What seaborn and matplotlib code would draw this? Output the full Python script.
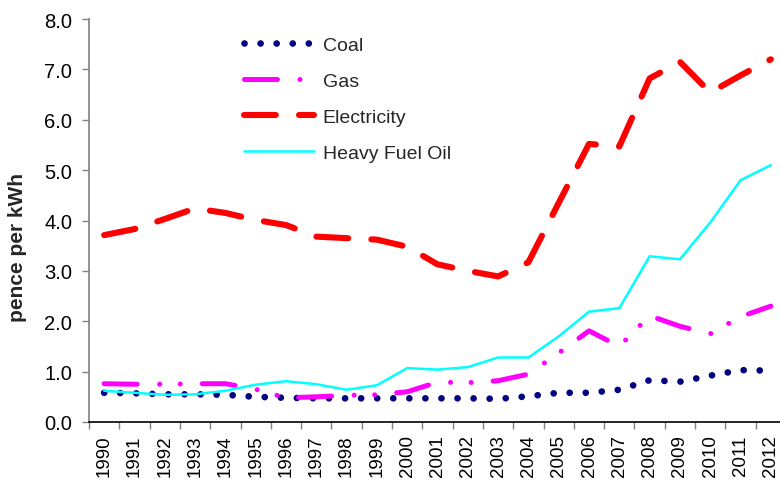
import numpy as np
import pandas as pd
import matplotlib
matplotlib.use("Agg")
import matplotlib.pyplot as plt
import seaborn as sns
from matplotlib.ticker import FixedLocator, FormatStrFormatter

# data (pence per kWh)
years = list(range(1990, 2013))
coal = [0.58, 0.57, 0.55, 0.55, 0.54, 0.50, 0.48, 0.47, 0.47, 0.47, 0.47, 0.47,
        0.47, 0.46, 0.51, 0.58, 0.58, 0.64, 0.83, 0.80, 0.92, 1.03, 1.02]
gas = [0.76, 0.75, 0.75, 0.76, 0.76, 0.65, 0.48, 0.50, 0.53, 0.54, 0.60, 0.79,
       0.78, 0.82, 0.95, 1.37, 1.81, 1.50, 2.11, 1.90, 1.75, 2.09, 2.30]
electricity = [3.71, 3.83, 4.03, 4.24, 4.15, 4.01, 3.91, 3.68, 3.65, 3.62, 3.48, 3.13,
               3.00, 2.89, 3.17, 4.35, 5.52, 5.47, 6.82, 7.15, 6.54, 6.88, 7.20]
hfo = [0.62, 0.58, 0.54, 0.55, 0.62, 0.74, 0.81, 0.75, 0.64, 0.73, 1.07, 1.04,
       1.09, 1.28, 1.28, 1.70, 2.19, 2.26, 3.29, 3.23, 3.96, 4.80, 5.10]

df = pd.DataFrame({"idx": np.arange(len(years)), "Coal": coal, "Gas": gas,
                   "Electricity": electricity, "Heavy Fuel Oil": hfo})

sns.set_theme(style="white")
plt.rcParams["font.family"] = ["Liberation Sans", "DejaVu Sans"]

fig = plt.figure(figsize=(7.8, 4.81), dpi=100)
ax = fig.add_axes([89 / 780, 58 / 481, 697 / 780, 403 / 481])

# series styles: (colour, linewidth pt, dash pattern in linewidths or None)
styles = {
    "Coal": ("#000080", 4.8, [0.01, 2.4]),
    "Gas": ("#FF00FF", 3.6, [6.6, 4.5, 0.01, 4.1, 0.01, 4.4]),
    "Electricity": ("#FF0000", 4.4, [5.2, 3.8]),
    "Heavy Fuel Oil": ("#00FFFF", 1.8, None),
}

for name, (col, lw, dash) in styles.items():
    sns.lineplot(data=df, x="idx", y=name, ax=ax, color=col, linewidth=lw, label=name)
    ln = ax.lines[-1]
    if dash is not None:
        ln.set_dashes(dash)
    ln.set_dash_capstyle("round")
    ln.set_solid_capstyle("round")

ax.set_xlim(-0.5, len(years) - 0.5)
ax.set_ylim(0, 8)
ax.set_yticks(np.arange(0, 8.1, 1.0))
ax.yaxis.set_major_formatter(FormatStrFormatter("%.1f"))
ax.set_xticks(np.arange(len(years)))
ax.set_xticklabels([str(y) for y in years], rotation=90)
ax.xaxis.set_minor_locator(FixedLocator(np.arange(-0.5, len(years), 1.0)))

ax.tick_params(axis="x", which="major", length=0, pad=9, labelsize=13.5, colors="black")
ax.tick_params(axis="x", which="minor", length=5, width=1, color="#808080", direction="out", bottom=True)
ax.tick_params(axis="y", which="major", length=5, width=1, color="#808080", direction="out",
               left=True, labelsize=14.5, labelcolor="black", pad=7)

for s in ["top", "right"]:
    ax.spines[s].set_visible(False)
ax.spines["left"].set_color("#808080")
ax.spines["left"].set_linewidth(1.2)
ax.spines["bottom"].set_color("black")
ax.spines["bottom"].set_linewidth(1.2)

ax.set_xlabel("")
ax.set_ylabel("pence per kWh", fontsize=15, fontweight="bold")
ax.yaxis.set_label_coords(-62 / 697, (423 - 248) / 403)

leg = ax.legend(loc="upper left", bbox_to_anchor=(244 / 780, 1 - 37 / 481),
                bbox_transform=fig.transFigure, frameon=False, fontsize=14,
                handlelength=3.6, handletextpad=0.45, labelspacing=0.95,
                borderpad=0, borderaxespad=0)

fig.savefig("out.png", dpi=100)
